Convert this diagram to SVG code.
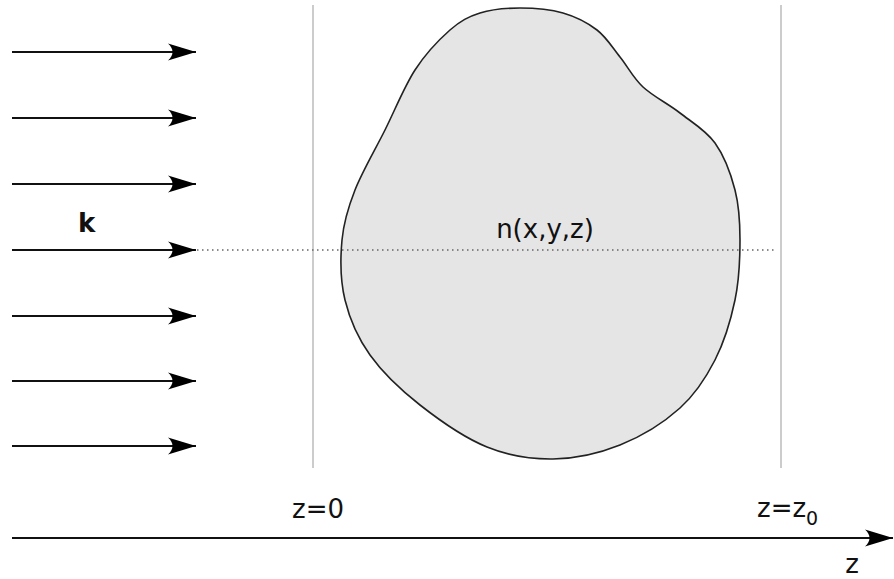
<svg xmlns="http://www.w3.org/2000/svg" width="894" height="579" viewBox="0 0 894 579">
<defs>
<marker id="ah" viewBox="-29 -10 31 20" refX="0" refY="0" markerWidth="31" markerHeight="20" markerUnits="userSpaceOnUse" orient="auto">
<path d="M0,0 L-28,-8.5 C-22,-3 -22,3 -28,8.5 Z" fill="#000"/>
</marker>
</defs>
<style>
.ray{stroke:#111;stroke-width:2;fill:none;marker-end:url(#ah)}
.guide{stroke:#ccc;stroke-width:2}
.lbl{font-family:"DejaVu Sans",sans-serif;font-size:26px;fill:#111}
</style>
<rect width="894" height="579" fill="#fff"/>
<g id="guides">
<line class="guide" x1="313" y1="5" x2="313" y2="468"/>
<line class="guide" x1="781" y1="5" x2="781" y2="468"/>
</g>
<g id="object">
<path d="M520,8 C533.8,8 550.2,9.3 563,13 C575.8,16.7 587.5,22.7 597,30 C606.5,37.3 612.3,47.5 620,57 C627.7,66.5 633,77.7 643,87 C653,96.3 668,103.7 680,113 C692,122.3 705.8,130.2 715,143 C724.2,155.8 730.8,173.8 735,190 C739.2,206.2 740,221.7 740,240 C740,258.3 739.2,280 735,300 C730.8,320 724.2,342 715,360 C705.8,378 695.8,393.8 680,408 C664.2,422.2 641.2,436.5 620,445 C598.8,453.5 575.2,458.7 553,459 C530.8,459.3 509.2,456 487,447 C464.8,438 439.5,420.3 420,405 C400.5,389.7 382.5,372.5 370,355 C357.5,337.5 349.7,319.2 345,300 C340.3,280.8 340.3,258.3 342,240 C343.7,221.7 347.8,208.3 355,190 C362.2,171.7 375,150 385,130 C395,110 404.2,86.7 415,70 C425.8,53.3 439.2,39.5 450,30 C460.8,20.5 468.3,16.7 480,13 C491.7,9.3 506.2,8 520,8 Z" fill="#e5e5e5" stroke="#222" stroke-width="1.6"/>
<text class="lbl" x="545" y="238" text-anchor="middle">n(x,y,z)</text>
</g>
<g id="connectors">
<line x1="197" y1="250" x2="777" y2="250" stroke="#666" stroke-width="1.5" stroke-dasharray="1.5 3.5"/>
<line class="ray" x1="12" y1="52" x2="196" y2="52"/>
<line class="ray" x1="12" y1="118" x2="196" y2="118"/>
<line class="ray" x1="12" y1="184" x2="196" y2="184"/>
<line class="ray" x1="12" y1="250" x2="196" y2="250"/>
<line class="ray" x1="12" y1="316" x2="196" y2="316"/>
<line class="ray" x1="12" y1="381" x2="196" y2="381"/>
<line class="ray" x1="12" y1="446" x2="196" y2="446"/>
<line class="ray" x1="12" y1="538" x2="893" y2="538"/>
</g>
<g id="labels">
<text class="lbl" x="78" y="232" font-weight="bold">k</text>
<text class="lbl" x="292" y="518">z=0</text>
<text class="lbl" x="757" y="517">z=z<tspan font-size="19" dy="8">0</tspan></text>
<text class="lbl" x="852" y="573" text-anchor="middle">z</text>
</g>
</svg>
